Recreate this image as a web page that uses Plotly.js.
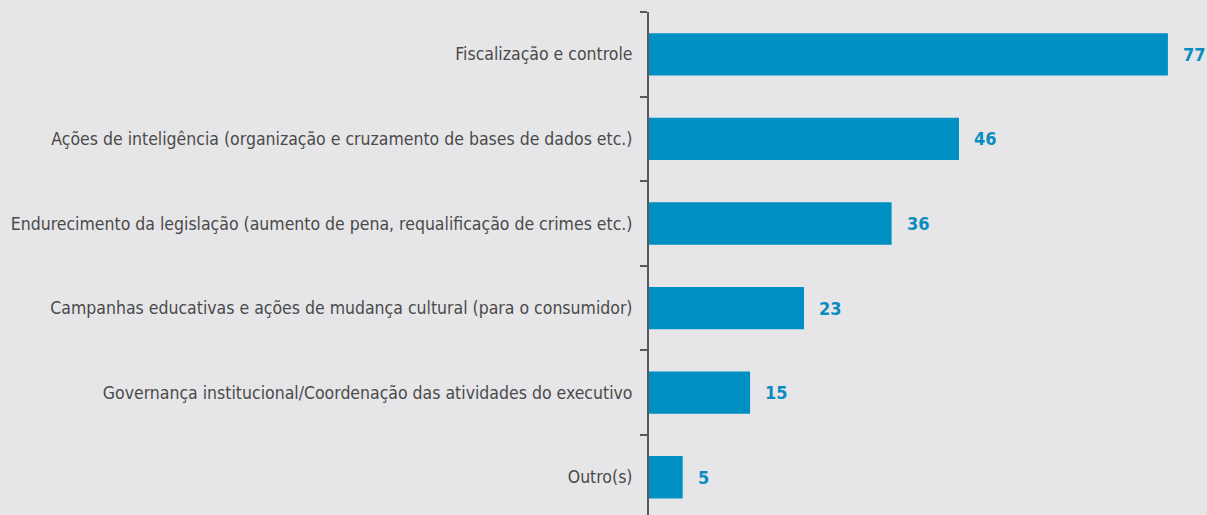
<!DOCTYPE html>
<html>
<head>
<meta charset="utf-8">
<script src="https://cdn.plot.ly/plotly-3.0.1.min.js"></script>
<style>
html,body{margin:0;padding:0;background:#e6e6e8;}
#chart{width:1207px;height:515px;}
</style>
</head>
<body>
<div id="chart"></div>
<script>
var categories = [
  "Fiscalização e controle",
  "Ações de inteligência (organização e cruzamento de bases de dados etc.)",
  "Endurecimento da legislação (aumento de pena, requalificação de crimes etc.)",
  "Campanhas educativas e ações de mudança cultural (para o consumidor)",
  "Governança institucional/Coordenação das atividades do executivo",
  "Outro(s)"
];
var values = [77, 46, 36, 23, 15, 5];

var FONT = "'Liberation Sans Narrow', 'DejaVu Sans Condensed', Roboto, sans-serif";

var trace = {
  type: "bar",
  orientation: "h",
  y: categories,
  x: values,
  marker: {color: "#008fc3"},
  hoverinfo: "none"
};

var annotations = values.map(function(v, i){
  return {
    x: v, y: categories[i], xref: "x", yref: "y",
    text: "<b>" + v + "</b>", showarrow: false,
    xanchor: "left", xshift: 13,
    font: {family: FONT, size: 18, color: "#0a8cc0"}
  };
});

var layout = {
  width: 1207, height: 515,
  paper_bgcolor: "#e6e6e8",
  plot_bgcolor: "#e6e6e8",
  margin: {l: 649, r: 0, t: 12, b: 0},
  bargap: 0.5,
  showlegend: false,
  font: {family: FONT, size: 17.5, color: "#4a4a4a"},
  xaxis: {
    range: [0, 82.8],
    showgrid: false, zeroline: false, showticklabels: false, showline: false, ticks: ""
  },
  yaxis: {
    type: "category",
    range: [5.446, -0.5],
    showgrid: false, zeroline: false,
    showline: true, linecolor: "#5a5a5a", linewidth: 2,
    ticks: "outside", tickson: "boundaries", ticklen: 7, tickwidth: 2, tickcolor: "#5a5a5a",
    ticklabelstandoff: 11,
    tickfont: {family: FONT, size: 17.5, color: "#4a4a4a"}
  },
  annotations: annotations
};

Plotly.newPlot("chart", [trace], layout, {displayModeBar: false, staticPlot: true});
</script>
</body>
</html>
